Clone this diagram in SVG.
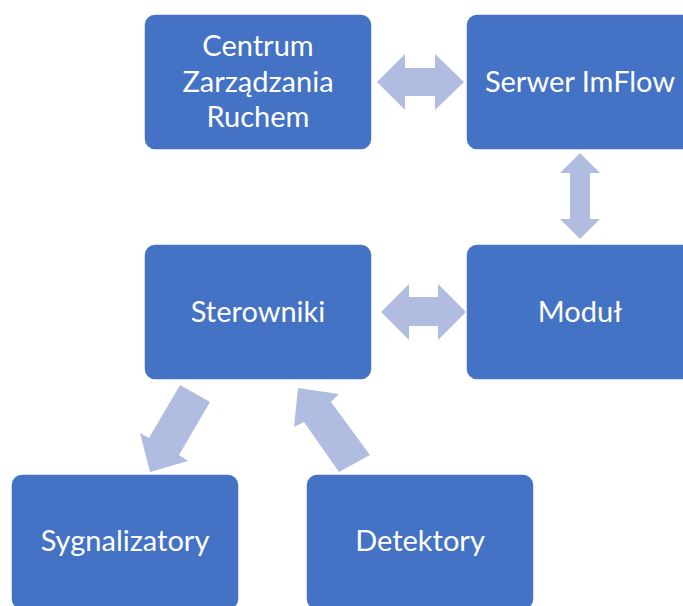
<svg xmlns="http://www.w3.org/2000/svg" width="683" height="606" viewBox="0 0 683 606">
<style>
.box{fill:#4472C4;stroke:#FFFFFF;stroke-width:1.5}
.lbl{fill:#FFFFFF;font-family:Lato,"Open Sans","Liberation Sans",sans-serif;font-size:29px;text-anchor:middle}
.arr{fill:#B0BDE0;stroke:none}
</style>
<rect width="683" height="606" fill="#FFFFFF"/>
<g id="connectors">
<polygon class="arr" points="377,82 405,54 405,68 435,68 435,54 464,82 435,110 435,96 405,96 405,110"/>
<polygon class="arr" points="580,153 600,173 590,173 590,219 600,219 580,239 560,219 570,219 570,173 560,173"/>
<polygon class="arr" points="381,312 409,284 409,297 438,297 438,284 466,312 438,340 438,326 409,326 409,340"/>
<polygon class="arr" points="180,385 210,402 179,455 188,461 150,472 140,433 149,438"/>
<polygon class="arr" points="339,472 370,455 331,402 339,394 298,388 294,427 304,422"/>
</g>
<g id="node-centrum">
<rect class="box" x="144" y="14" width="228" height="136" rx="11"/>
<text class="lbl" x="258" y="56">Centrum</text>
<text class="lbl" x="258" y="92">Zarządzania</text>
<text class="lbl" x="258" y="127">Ruchem</text>
</g>
<g id="node-serwer">
<rect class="box" x="466" y="14" width="228" height="136" rx="11"/>
<text class="lbl" x="580" y="92">Serwer ImFlow</text>
</g>
<g id="node-sterowniki">
<rect class="box" x="144" y="244" width="228" height="136" rx="11"/>
<text class="lbl" x="258" y="322">Sterowniki</text>
</g>
<g id="node-modul">
<rect class="box" x="466" y="244" width="228" height="136" rx="11"/>
<text class="lbl" x="580" y="322">Moduł</text>
</g>
<g id="node-sygnalizatory">
<rect class="box" x="11" y="474" width="228" height="136" rx="11"/>
<text class="lbl" x="125" y="551">Sygnalizatory</text>
</g>
<g id="node-detektory">
<rect class="box" x="306" y="474" width="228" height="136" rx="11"/>
<text class="lbl" x="420" y="551">Detektory</text>
</g>
</svg>
